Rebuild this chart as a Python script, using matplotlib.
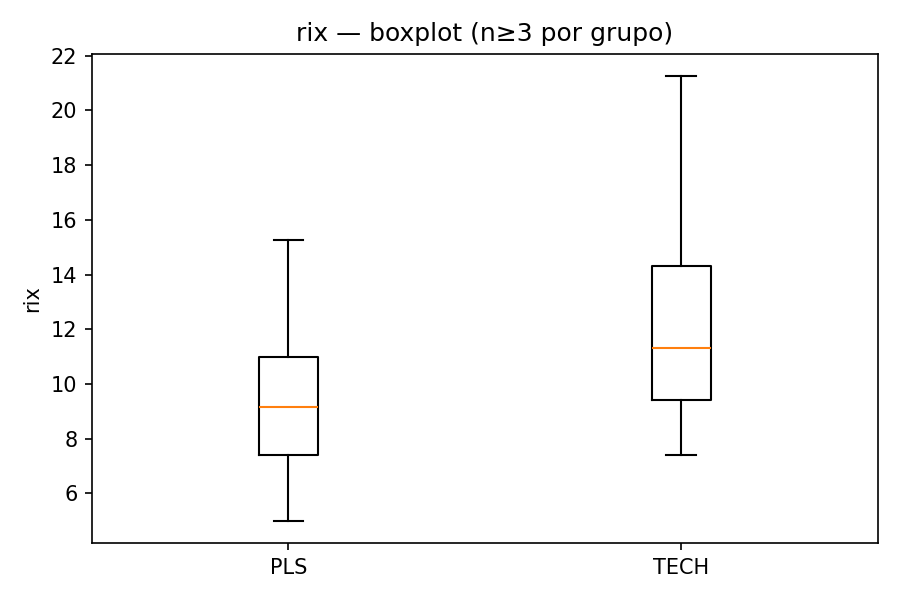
import matplotlib
matplotlib.use("Agg")
import matplotlib.pyplot as plt

groups = ["PLS", "TECH"]
whislo = [5.0, 7.4]
q1 = [7.4, 9.4]
med = [9.15, 11.3]
q3 = [11.0, 14.3]
whishi = [15.25, 21.25]

stats = [
    {"label": g, "whislo": lo, "q1": a, "med": m, "q3": b, "whishi": hi, "fliers": []}
    for g, lo, a, m, b, hi in zip(groups, whislo, q1, med, q3, whishi)
]

fig, ax = plt.subplots(figsize=(6, 4), dpi=150)
ax.bxp(stats)
ax.set_ylabel("rix")
ax.set_title("rix — boxplot (n≥3 por grupo)")
fig.tight_layout()
fig.savefig("out.png", dpi=150)
